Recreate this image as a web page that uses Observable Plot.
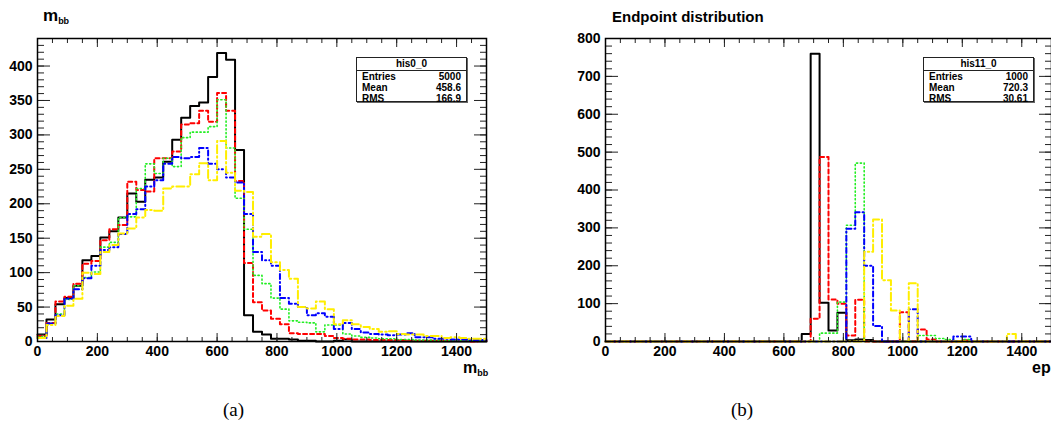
<!DOCTYPE html>
<html>
<head>
<meta charset="utf-8">
<script src="https://cdn.jsdelivr.net/npm/d3@7"></script>
<script src="https://cdn.jsdelivr.net/npm/@observablehq/plot@0.6"></script>
<style>
  body { margin: 0; background: #fff; }
  #fig { position: relative; width: 1051px; height: 425px; overflow: hidden; background: #fff;
         font-family: "Liberation Sans", Arial, Helvetica, sans-serif; color: #000; }
  .panel { position: absolute; top: 0; }
  .lbl { position: absolute; font-weight: bold; white-space: nowrap; line-height: 1; }
  .lbl sub { font-size: 9px; vertical-align: -3px; line-height: 0; }
  .cap { position: absolute; font-family: "Liberation Serif", "DejaVu Serif", serif; font-size: 19px; line-height: 1; }
  .stats { position: absolute; width: 111px; height: 45px; border: 1px solid #222; background: #fff;
           box-shadow: 1px 1px 0 #666; font-size: 10px; font-weight: bold; box-sizing: border-box; }
  .stats .hd { height: 12px; line-height: 12px; text-align: center; border-bottom: 1px solid #222; }
  .stats .row { height: 11px; line-height: 11px; padding: 0 5px; display: flex; justify-content: space-between; }
</style>
</head>
<body>
<div id="fig"></div>
<script>
// ---- binning: 50 bins of width 30 over [0, 1500] ----
const binWidth = 30;
const xMax = 1500;

// ---- panel (a): m_bb distributions (counts per bin) ----
const mbbBlack  = [10,32,54,63,81,118,124,151,160,180,215,203,235,238,261,293,325,342,347,384,419,409,278,38,14,10,4,4,3,1,1,0,0,1,3,0,0,0,0,0,0,0,0,0,0,0,0,0,0,0];
const mbbRed    = [8,27,58,65,84,113,117,147,163,169,232,220,218,266,266,276,315,317,335,319,361,335,233,114,57,45,33,25,12,11,11,11,8,5,4,3,3,2,2,2,2,1,1,1,1,1,1,1,0,1];
const mbbGreen  = [7,26,40,61,81,93,101,137,144,180,181,222,258,244,266,254,296,304,304,312,351,281,208,163,96,84,63,47,30,28,27,14,24,24,11,8,6,5,4,4,3,3,2,2,2,1,1,1,1,1];
const mbbBlue   = [5,26,38,62,76,92,110,133,137,156,185,192,225,234,258,268,266,268,281,258,250,238,231,185,130,118,110,63,55,50,38,41,36,18,27,18,13,11,10,9,10,12,6,6,4,4,3,3,2,2];
const mbbYellow = [5,24,37,52,62,100,98,130,140,157,164,180,191,190,222,225,225,243,259,234,291,245,219,217,152,156,115,104,91,50,48,58,47,25,31,25,21,18,14,15,11,10,10,8,8,5,6,5,4,4];

// ---- panel (b): endpoint distributions (counts per bin) ----
const epBlack  = [0,0,0,0,0,0,0,0,0,0,0,0,0,0,0,0,0,0,0,0,0,0,20,760,102,29,76,3,5,4,0,0,0,0,0,0,0,0,0,0,0,0,0,0,0,0,0,0,0,0];
const epRed    = [0,0,0,0,0,0,0,0,0,0,0,0,0,0,0,0,0,0,0,0,0,0,0,60,487,111,100,16,110,0,0,0,0,77,0,32,5,0,0,0,3,0,0,0,0,0,0,0,0,0];
const epGreen  = [0,0,0,0,0,0,0,0,0,0,0,0,0,0,0,0,0,0,0,0,0,0,0,0,22,22,104,307,471,0,0,0,0,0,0,16,16,8,5,0,5,0,0,0,0,0,0,0,0,0];
const epBlue   = [0,0,0,0,0,0,0,0,0,0,0,0,0,0,0,0,0,0,0,0,0,0,0,0,0,0,0,298,341,200,41,0,0,0,85,0,0,0,0,13,13,0,0,0,0,0,0,0,0,0];
const epYellow = [0,0,0,0,0,0,0,0,0,0,0,0,0,0,0,0,0,0,0,0,0,0,0,0,0,0,0,0,0,237,322,162,82,0,154,0,0,0,0,0,0,0,0,0,0,20,0,0,0,0];

// ---- line styles (ROOT-like colours and dash patterns) ----
const styles = [
  {color: "#000000", width: 2,   dash: null},
  {color: "#ff0000", width: 2,   dash: "4,3"},
  {color: "#22ee22", width: 1.6, dash: "1.2,2.6"},
  {color: "#0000ff", width: 2,   dash: "5,3,1.2,3"},
  {color: "#ffee00", width: 2,   dash: "8,3,1.5,3"}
];

// ---- tick positions and labels ----
const xMajorTicks = d3.range(0, 1401, 200);
const xMinorTicks = d3.range(0, 1501, 50);
const aYMajor = d3.range(0, 401, 50);
const aYMinor = d3.range(0, 441, 10);
const bYMajor = d3.range(0, 801, 100);
const bYMinor = d3.range(0, 801, 20);

// bin edges + counts -> outline points for a step curve
function outline(values) {
  const pts = values.map((v, i) => ({x: i * binWidth, y: v}));
  pts.push({x: values.length * binWidth, y: values[values.length - 1]});
  return pts;
}

function histPanel({series, yMax, yMajor, yMinor, width, marginLeft, marginRight}) {
  const fmt = d => String(d);
  const tickStroke = "#222";
  return Plot.plot({
    width, height: 380,
    marginLeft, marginRight, marginTop: 38, marginBottom: 39,
    x: {domain: [0, xMax]},
    y: {domain: [0, yMax]},
    style: {fontFamily: "'Liberation Sans', Arial, sans-serif", fontSize: "14px", fontWeight: "bold", color: "#000", background: "transparent"},
    marks: [
      ...series.map((values, k) => Plot.line(outline(values), {
        x: "x", y: "y", curve: "step-after",
        stroke: styles[k].color, strokeWidth: styles[k].width,
        strokeDasharray: styles[k].dash
      })),
      // inward ticks on all four sides
      Plot.axisX(xMinorTicks, {anchor: "bottom", tickSize: -4, fill: "none", stroke: tickStroke, label: null}),
      Plot.axisX(xMajorTicks, {anchor: "bottom", tickSize: -8, fill: "none", stroke: tickStroke, label: null}),
      Plot.axisX(xMinorTicks, {anchor: "top", tickSize: -4, fill: "none", stroke: tickStroke, label: null}),
      Plot.axisX(xMajorTicks, {anchor: "top", tickSize: -8, fill: "none", stroke: tickStroke, label: null}),
      Plot.axisY(yMinor, {anchor: "left", tickSize: -7, fill: "none", stroke: tickStroke, label: null}),
      Plot.axisY(yMajor, {anchor: "left", tickSize: -13, fill: "none", stroke: tickStroke, label: null}),
      Plot.axisY(yMinor, {anchor: "right", tickSize: -7, fill: "none", stroke: tickStroke, label: null}),
      Plot.axisY(yMajor, {anchor: "right", tickSize: -13, fill: "none", stroke: tickStroke, label: null}),
      // tick labels
      Plot.axisX(xMajorTicks, {anchor: "bottom", tickSize: 0, tickPadding: 5, tickFormat: fmt, label: null}),
      Plot.axisY(yMajor, {anchor: "left", tickSize: 0, tickPadding: 5, tickFormat: fmt, label: null}),
      Plot.frame({stroke: "#000", strokeWidth: 1.5})
    ]
  });
}

const fig = document.getElementById("fig");

const plotA = histPanel({
  series: [mbbBlack, mbbRed, mbbGreen, mbbBlue, mbbYellow],
  yMax: 440, yMajor: aYMajor, yMinor: aYMinor,
  width: 500, marginLeft: 37, marginRight: 14
});
plotA.classList.add("panel");
plotA.style.left = "0px";
fig.appendChild(plotA);

const plotB = histPanel({
  series: [epBlack, epRed, epGreen, epBlue, epYellow],
  yMax: 800, yMajor: bYMajor, yMinor: bYMinor,
  width: 492, marginLeft: 45, marginRight: 1
});
plotB.classList.add("panel");
plotB.style.left = "560px";
fig.appendChild(plotB);

// titles, axis titles, statistics boxes and captions
function addLabel(html, cls, css) {
  const el = document.createElement("div");
  el.className = cls;
  el.innerHTML = html;
  Object.assign(el.style, css);
  fig.appendChild(el);
  return el;
}
addLabel("m<sub>bb</sub>", "lbl", {left: "43px", top: "7px", fontSize: "17px"});
addLabel("m<sub>bb</sub>", "lbl", {left: "463px", top: "360px", fontSize: "16px"});
addLabel("Endpoint distribution", "lbl", {left: "612px", top: "9px", fontSize: "15px"});
addLabel("ep", "lbl", {left: "1032px", top: "360px", fontSize: "16px"});

function statsBox(left, name, entries, mean, rms) {
  addLabel(
    `<div class="hd">${name}</div>` +
    `<div class="row"><span>Entries</span><span>${entries}</span></div>` +
    `<div class="row"><span>Mean</span><span>${mean}</span></div>` +
    `<div class="row"><span>RMS</span><span>${rms}</span></div>`,
    "stats", {left: left + "px", top: "57px"});
}
statsBox(356, "his0_0", "5000", "458.6", "166.9");
statsBox(923, "his11_0", "1000", "720.3", "30.61");

addLabel("(a)", "cap", {left: "223px", top: "400px"});
addLabel("(b)", "cap", {left: "731px", top: "400px"});
</script>
</body>
</html>
